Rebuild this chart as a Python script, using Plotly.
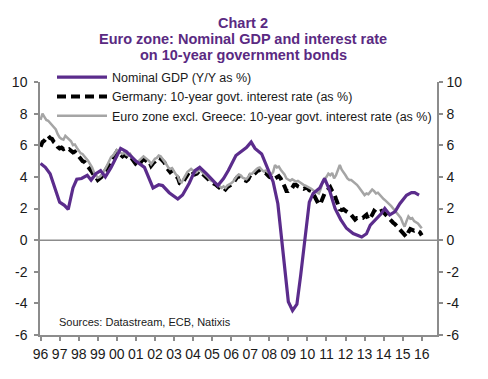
import numpy as np
import plotly.graph_objects as go

# ---- data ----
gdp_t = [1996.0, 1996.25, 1996.5, 1996.75, 1997.0, 1997.25, 1997.45, 1997.7, 1997.9, 1998.15,
         1998.45, 1998.65, 1998.9, 1999.15, 1999.4, 1999.7, 2000.2, 2000.5, 2001.0, 2001.45,
         2001.9, 2002.2, 2002.4, 2002.75, 2003.2, 2003.45, 2003.8, 2004.1, 2004.35, 2004.7,
         2005.0, 2005.3, 2005.6, 2005.85, 2006.25, 2006.6, 2006.8, 2007.05, 2007.25, 2007.6,
         2007.95, 2008.2, 2008.45, 2008.65, 2008.85, 2009.0, 2009.22, 2009.45, 2009.65, 2009.87,
         2010.1, 2010.3, 2010.65, 2010.9, 2011.15, 2011.45, 2011.75, 2012.05, 2012.4, 2012.85,
         2013.1, 2013.3, 2013.55, 2013.88, 2014.06, 2014.32, 2014.6, 2014.85, 2015.2, 2015.46,
         2015.63, 2015.86]
gdp_v = [4.85, 4.6, 4.2, 3.3, 2.4, 2.2, 1.95, 3.3, 3.85, 3.9,
         4.1, 3.8, 4.2, 4.4, 4.0, 4.6, 5.8, 5.6, 5.0, 4.6,
         3.3, 3.5, 3.45, 3.0, 2.6, 2.85, 3.6, 4.4, 4.6, 4.2,
         3.8, 3.45, 3.9, 4.4, 5.35, 5.7, 5.85, 6.2, 5.8, 5.45,
         4.5, 3.7, 2.3, 0.1, -2.0, -3.9, -4.45, -4.05, -2.2, 0.0,
         2.4, 2.95, 3.3, 3.9, 3.2, 2.0, 1.3, 0.75, 0.42, 0.2,
         0.4, 0.95, 1.26, 1.68, 2.0, 1.6, 1.8, 2.3, 2.84, 3.0,
         3.0, 2.85]

rate_start = 1996.0
rate_step = 0.1
ger_v = [5.9, 6.2, 6.3, 6.5, 6.6, 6.45, 6.4, 6.2, 6.1, 5.9,
         5.8, 5.85, 5.75, 5.8, 5.7, 5.75, 5.6, 5.55, 5.6, 5.45,
         5.3, 5.1, 5.0, 4.95, 4.8, 4.7, 4.5, 4.3, 4.1, 4.0,
         3.8, 3.9, 4.0, 4.2, 4.4, 4.6, 4.9, 5.1, 5.2, 5.4,
         5.6, 5.5, 5.4, 5.3, 5.4, 5.25, 5.2, 5.3, 5.1, 4.9,
         4.8, 4.7, 4.8, 5.0, 5.1, 5.05, 4.95, 5.0, 4.7, 4.85,
         5.0, 5.1, 5.2, 5.15, 5.0, 4.9, 4.6, 4.4, 4.3, 4.4,
         4.2, 4.05, 3.95, 3.6, 3.55, 3.75, 4.0, 4.2, 4.3, 4.4,
         4.3, 4.15, 4.2, 4.35, 4.3, 4.2, 4.1, 4.0, 3.85, 3.7,
         3.65, 3.6, 3.5, 3.4, 3.3, 3.2, 3.3, 3.2, 3.35, 3.4,
         3.5, 3.6, 3.8, 3.95, 4.05, 4.0, 3.85, 3.8, 3.75, 3.85,
         4.1, 4.05, 4.2, 4.3, 4.4, 4.45, 4.35, 4.2, 4.25, 4.1,
         4.0, 3.95, 3.8, 3.9, 4.0, 4.05, 3.9, 3.7, 3.4, 3.1,
         3.1, 3.2, 3.3, 3.5, 3.5, 3.4, 3.35, 3.3, 3.25, 3.3,
         3.3, 3.15, 3.1, 2.95, 2.75, 2.5, 2.25, 2.35, 2.7, 2.95,
         3.1, 3.25, 3.35, 3.1, 2.95, 2.6, 2.2, 1.95, 1.9, 1.95,
         1.85, 1.8, 1.7, 1.6, 1.4, 1.3, 1.4, 1.4, 1.45, 1.4,
         1.5, 1.6, 1.3, 1.4, 1.6, 1.85, 1.75, 1.85, 1.8, 1.85,
         1.75, 1.6, 1.5, 1.35, 1.2, 1.1, 1.0, 0.85, 0.75, 0.6,
         0.45, 0.3, 0.2, 0.5, 0.7, 0.65, 0.6, 0.65, 0.55, 0.5,
         0.3]
ezg_v = [7.6, 8.0, 7.8, 7.6, 7.55, 7.4, 7.3, 7.1, 7.0, 6.7,
         6.5, 6.4, 6.35, 6.6, 6.5, 6.4, 6.25, 6.0, 6.05, 5.85,
         5.7, 5.5, 5.45, 5.3, 5.2, 5.0, 4.8, 4.6, 4.3, 4.1,
         3.95, 4.0, 4.1, 4.3, 4.5, 4.75, 5.0, 5.25, 5.35, 5.5,
         5.7, 5.6, 5.55, 5.45, 5.55, 5.4, 5.35, 5.45, 5.25, 5.1,
         5.0, 4.95, 5.05, 5.2, 5.3, 5.2, 5.1, 5.0, 4.8, 5.0,
         5.15, 5.2, 5.35, 5.3, 5.15, 5.0, 4.8, 4.6, 4.5, 4.55,
         4.3, 4.15, 4.05, 3.7, 3.65, 3.9, 4.1, 4.3, 4.4, 4.5,
         4.4, 4.25, 4.3, 4.45, 4.4, 4.3, 4.2, 4.1, 3.95, 3.8,
         3.75, 3.7, 3.6, 3.5, 3.4, 3.3, 3.4, 3.3, 3.45, 3.5,
         3.6, 3.7, 3.9, 4.05, 4.15, 4.1, 3.95, 3.9, 3.85, 4.0,
         4.2, 4.2, 4.35, 4.45, 4.55, 4.6, 4.45, 4.35, 4.4, 4.3,
         4.25, 4.15, 4.3, 4.75, 4.6, 4.65, 4.45, 4.3, 4.15, 3.9,
         3.8, 3.75, 3.85, 3.8, 3.7, 3.75, 3.65, 3.55, 3.5, 3.45,
         3.4, 3.3, 3.25, 3.15, 3.1, 3.0, 2.95, 3.25, 3.7, 3.9,
         4.0, 4.2, 4.1, 4.25, 3.9, 4.1, 4.4, 4.75, 4.45, 4.3,
         4.1, 3.9, 3.8, 3.8, 3.7, 3.65, 3.5, 3.35, 3.2, 3.0,
         2.85, 2.95, 2.9, 3.05, 3.2, 3.1, 2.95, 3.0, 2.85, 2.7,
         2.6, 2.5, 2.4, 2.3, 2.15, 2.0, 1.85, 1.7, 1.6, 1.4,
         1.1, 0.85, 1.2, 1.5, 1.35, 1.4, 1.2, 1.15, 1.05, 0.9,
         0.75]
rate_t = np.round(rate_start + rate_step * np.arange(len(ger_v)), 2)

tick_years = list(range(1996, 2017))
tick_labels = ["96", "97", "98", "99", "00", "01", "02", "03", "04", "05", "06",
               "07", "08", "09", "10", "11", "12", "13", "14", "15", "16"]
y_ticks = [-6, -4, -2, 0, 2, 4, 6, 8, 10]
y_tick_labels = ["-6", "-4", "-2", "0", "2", "4", "6", "8", "10"]

names = ["Nominal GDP (Y/Y as %)",
         "Germany: 10-year govt. interest rate (as %)",
         "Euro zone excl. Greece: 10-year govt. interest rate (as %)"]

PURPLE = "#5B2C8C"
TITLE_PURPLE = "#5A2A82"
GRAY = "#A5A5A5"
AXIS = "#8C8C8C"
FONT = "Liberation Sans, Arial, sans-serif"

# page body has an 8px default margin; compensate so the plot lands in place
OFF = 8
L, R, T, B = 40 - OFF, 488 - (437 - OFF), 81.5 - OFF, 379 - (335 - OFF)
PH = 335 - 81.5
PW = 437 - 40

fig = go.Figure()
fig.add_trace(go.Scatter(x=rate_t, y=ger_v, mode="lines", name=names[1], legendrank=2,
                         line=dict(color="black", width=4, dash="9px,5px")))
fig.add_trace(go.Scatter(x=rate_t, y=ezg_v, mode="lines", name=names[2], legendrank=3,
                         line=dict(color=GRAY, width=2.5)))
fig.add_trace(go.Scatter(x=gdp_t, y=gdp_v, mode="lines", name=names[0], legendrank=1,
                         line=dict(color=PURPLE, width=3.2)))
fig.add_trace(go.Scatter(x=[1996], y=[0], yaxis="y2", mode="markers",
                         marker=dict(opacity=0), showlegend=False, hoverinfo="skip"))

axis_common = dict(showline=True, linecolor=AXIS, linewidth=1.5, ticks="outside",
                   ticklen=4, tickcolor=AXIS, tickwidth=1.5, showgrid=False,
                   zeroline=False, tickfont=dict(family=FONT, size=14, color="#1a1a1a"))

fig.update_layout(
    width=488, height=379,
    margin=dict(l=L, r=R, t=T, b=B, autoexpand=False),
    paper_bgcolor="white", plot_bgcolor="white",
    font=dict(family=FONT),
    showlegend=True,
    legend=dict(x=(52 - 40) / PW, y=(335 - 62) / PH, xanchor="left", yanchor="top",
                bgcolor="rgba(0,0,0,0)", font=dict(family=FONT, size=12.5, color="#1a1a1a"),
                itemwidth=50, tracegroupgap=0),
    xaxis=dict(range=[1995.97, 2016.8], tickvals=tick_years, ticktext=tick_labels,
               ticklabelstandoff=1, **axis_common),
    yaxis=dict(range=[-6, 10], tickvals=y_ticks, ticktext=y_tick_labels,
               ticklabelstandoff=4, **axis_common),
    yaxis2=dict(range=[-6, 10], tickvals=y_ticks, ticktext=y_tick_labels, overlaying="y",
                side="right", ticklabelstandoff=1, **axis_common),
    shapes=[dict(type="line", xref="paper", x0=0, x1=1, yref="y", y0=0, y1=0,
                 line=dict(color=AXIS, width=1.5), layer="below")],
)

title_lines = ["Chart 2", "Euro zone: Nominal GDP and interest rate",
               "on 10-year government bonds"]
title_px = [22, 38, 54]
for txt, ypx in zip(title_lines, title_px):
    fig.add_annotation(text="<b>%s</b>" % txt, xref="paper", yref="paper",
                       x=(243 - 40) / PW, y=(335 - ypx) / PH, xanchor="center",
                       yanchor="middle", showarrow=False,
                       font=dict(family=FONT, size=14.5, color=TITLE_PURPLE))

fig.add_annotation(text="Sources: Datastream, ECB, Natixis", xref="paper", yref="paper",
                   x=(57 - 40) / PW, y=(335 - 322) / PH, xanchor="left", yanchor="middle",
                   showarrow=False, font=dict(family=FONT, size=11, color="#1a1a1a"))

fig.write_html("out.html")
